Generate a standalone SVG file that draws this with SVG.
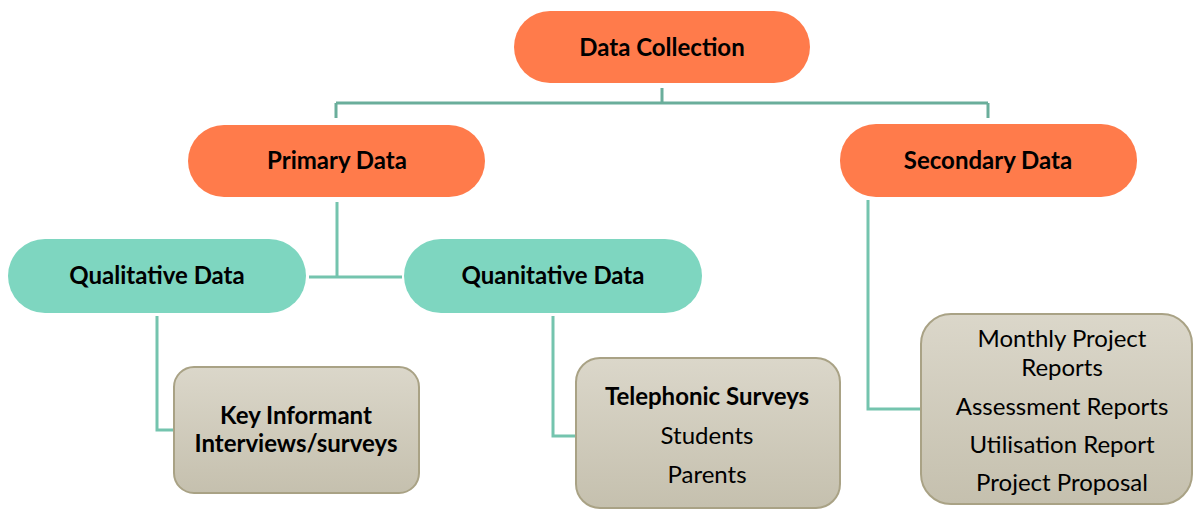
<svg xmlns="http://www.w3.org/2000/svg" width="1195" height="510" viewBox="0 0 1195 510">
  <defs>
    <linearGradient id="boxFill" x1="0" y1="0" x2="0" y2="1">
      <stop offset="0" stop-color="#dbd7ca"/>
      <stop offset="1" stop-color="#c5c0ae"/>
    </linearGradient>
    <style>
      .pill-main { fill: #ff7b4b; }
      .pill-sub { fill: #7ed6c0; }
      .box { fill: url(#boxFill); stroke: #a9a285; stroke-width: 2; }
      .link { fill: none; stroke: #74c4ae; stroke-width: 3; }
      .link-top { fill: none; stroke: #6aae9b; stroke-width: 3; }
      text { font-family: Lato, "Open Sans", "Liberation Sans", sans-serif; font-size: 24px; fill: #000; text-anchor: middle; }
      .b { font-weight: bold; }
    </style>
  </defs>

  <g id="connectors">
    <path class="link-top" d="M662 88 V103 M336 103 H988 M336 103 V118 M988 103 V118"/>
    <path class="link" d="M337 202 V277 M309 277 H402"/>
    <path class="link" d="M157 316 V430 H174"/>
    <path class="link" d="M553 316 V436 H576"/>
    <path class="link" d="M868 200 V409 H921"/>
  </g>

  <g id="data-collection">
    <rect class="pill-main" x="514" y="11" width="296" height="72" rx="36"/>
    <text class="b" x="662" y="56">Data Collection</text>
  </g>

  <g id="primary-data">
    <rect class="pill-main" x="188" y="125" width="297" height="72" rx="36"/>
    <text class="b" x="337" y="169">Primary Data</text>
  </g>

  <g id="secondary-data">
    <rect class="pill-main" x="840" y="124" width="297" height="73" rx="36"/>
    <text class="b" x="988" y="169">Secondary Data</text>
  </g>

  <g id="qualitative-data">
    <rect class="pill-sub" x="8" y="239" width="298" height="74" rx="37"/>
    <text class="b" x="157" y="284">Qualitative Data</text>
  </g>

  <g id="quanitative-data">
    <rect class="pill-sub" x="404" y="239" width="298" height="74" rx="37"/>
    <text class="b" x="553" y="284">Quanitative Data</text>
  </g>

  <g id="key-informant">
    <rect class="box" x="174" y="367" width="245" height="126" rx="20"/>
    <text class="b" x="296" y="424">Key Informant</text>
    <text class="b" x="296" y="452">Interviews/surveys</text>
  </g>

  <g id="telephonic-surveys">
    <rect class="box" x="576" y="358" width="264" height="150" rx="24"/>
    <text class="b" x="707" y="405">Telephonic Surveys</text>
    <text x="707" y="444">Students</text>
    <text x="707" y="483">Parents</text>
  </g>

  <g id="secondary-sources">
    <rect class="box" x="921" y="314" width="271" height="190" rx="30"/>
    <text x="1062" y="347">Monthly Project</text>
    <text x="1062" y="376">Reports</text>
    <text x="1062" y="415">Assessment Reports</text>
    <text x="1062" y="453">Utilisation Report</text>
    <text x="1062" y="491">Project Proposal</text>
  </g>
</svg>
